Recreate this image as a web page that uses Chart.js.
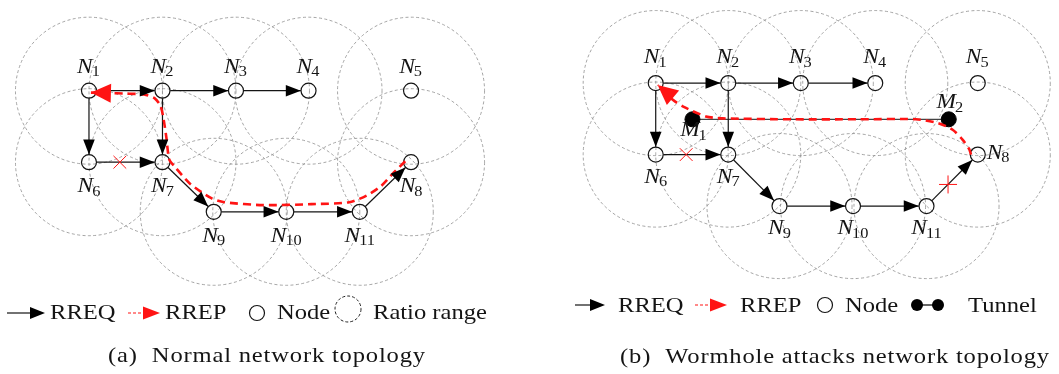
<!DOCTYPE html>
<html>
<head>
<meta charset="utf-8">
<script src="https://cdn.jsdelivr.net/npm/chart.js@4.4.1/dist/chart.umd.min.js"></script>
<style>
  html, body { margin: 0; padding: 0; background: #fff; }
  #wrap { position: relative; width: 1059px; height: 374px; overflow: hidden; }
  canvas { position: absolute; top: 0; }
  #panelA { left: 0; }
  #panelB { left: 530px; }
</style>
</head>
<body>
<div id="wrap">
  <canvas id="panelA" width="530" height="374"></canvas>
  <canvas id="panelB" width="529" height="374"></canvas>
</div>
<script>
// ---- topology data (field coordinates, y grows downward) ----
const nodeIds = ['1', '2', '3', '4', '5', '6', '7', '8', '9', '10', '11'];

// (a) normal topology
const nodeXA = [83, 159, 235, 310, 416, 83, 159, 416, 212, 287, 363];
const nodeYA = [86, 86, 86, 86, 86, 161, 161, 161, 213, 213, 213];
const rangeA = 76;

// (b) wormhole topology
const nodeXB = [121, 196, 271, 348, 454, 121, 196, 454, 249, 325, 401];
const nodeYB = [78, 78, 78, 78, 78, 153, 153, 153, 207, 207, 207];
const rangeB = 75;
const maliciousIds = ['1', '2'];
const maliciousXB = [159, 424];
const maliciousYB = [116, 116];

// RREQ hops, same flooding in both topologies
const rreqFrom = ['1', '2', '3', '1', '2', '6', '7', '9', '10', '11'];
const rreqTo   = ['2', '3', '4', '6', '7', '7', '9', '10', '11', '8'];

// hops whose request is dropped
const droppedA = [['6', '7']];
const droppedB = [['6', '7'], ['11', '8']];

// RREP return routes (N8 back to N1)
const rrepXA = [410, 398, 385, 370, 352, 313, 263, 223, 210, 188, 172, 166, 163, 160, 157, 151, 140, 120, 104, 85];
const rrepYA = [160, 172, 186, 196, 203, 205, 206, 203, 199, 184, 166, 158, 135, 115, 102, 94, 90, 89, 88.5, 88];
const rrepXB = [447, 445, 438, 428, 413, 390, 330, 263, 190, 173, 150, 138, 123];
const rrepYB = [153, 147, 137, 127, 120, 116, 116, 116, 115, 113, 103, 95, 80];

// ---- drawing helpers ----
const SX = 1.17;                       // wide set of the serif face
const FONT = '"Liberation Serif", "Times New Roman", serif';
const INK = '#141414';
const RED = '#ff1414';
const NODE_R = 7.5;
const EDGE_TRIM = 8;

function fontStr(size, italic) { return (italic ? 'italic ' : '') + size + 'px ' + FONT; }

function textWidth(ctx, s, size, italic, spacing) {
  ctx.save();
  ctx.font = fontStr(size, italic);
  ctx.letterSpacing = (spacing || 0) + 'px';
  const w = ctx.measureText(s).width * SX;
  ctx.restore();
  return w;
}

function drawText(ctx, s, x, y, size, italic, spacing) {
  ctx.save();
  ctx.font = fontStr(size, italic);
  ctx.letterSpacing = (spacing || 0) + 'px';
  ctx.fillStyle = INK;
  ctx.textAlign = 'left';
  ctx.textBaseline = 'alphabetic';
  ctx.translate(x, y);
  ctx.scale(SX, 1);
  ctx.fillText(s, 0, 0);
  ctx.restore();
}

function drawHead(ctx, tx, ty, ang, len, half, color) {
  const c = Math.cos(ang), s = Math.sin(ang);
  const bx = tx - len * c, by = ty - len * s;
  ctx.save();
  ctx.fillStyle = color;
  ctx.beginPath();
  ctx.moveTo(tx, ty);
  ctx.lineTo(bx - half * s, by + half * c);
  ctx.lineTo(bx + half * s, by - half * c);
  ctx.closePath();
  ctx.fill();
  ctx.restore();
}

function drawCross(ctx, cx, cy, ang, half) {
  ctx.save();
  ctx.strokeStyle = RED;
  ctx.lineWidth = 1;
  [ang + Math.PI / 4, ang - Math.PI / 4].forEach(a => {
    ctx.beginPath();
    ctx.moveTo(cx - half * Math.cos(a), cy - half * Math.sin(a));
    ctx.lineTo(cx + half * Math.cos(a), cy + half * Math.sin(a));
    ctx.stroke();
  });
  ctx.restore();
}

// node name: italic letter with upright subscript
function drawNodeLabel(ctx, letter, sub, cx, baseY, align) {
  const w1 = textWidth(ctx, letter, 20, true);
  const w2 = textWidth(ctx, sub, 14, false);
  const total = w1 + w2 - 1;
  const x0 = align === 'left' ? cx : cx - total / 2;
  drawText(ctx, letter, x0, baseY, 20, true);
  drawText(ctx, sub, x0 + w1 - 1, baseY + 3.5, 14, false);
}

function pxRadius(chart, r) {
  const s = chart.scales.x;
  return Math.abs(s.getPixelForValue(r) - s.getPixelForValue(0));
}

// ---- chart per panel ----
function buildPanel(canvasId, p) {
  const canvas = document.getElementById(canvasId);
  const W = canvas.width, H = canvas.height;
  const pos = id => { const i = nodeIds.indexOf(id); return { x: p.nodeX[i], y: p.nodeY[i] }; };
  const nodePts = nodeIds.map(id => pos(id));

  const datasets = [];
  // radio ranges
  datasets.push({
    type: 'scatter', label: 'Ratio range', data: nodePts, order: 6, clip: false,
    pointRadius: c => pxRadius(c.chart, p.range), pointHoverRadius: c => pxRadius(c.chart, p.range),
    pointBackgroundColor: 'rgba(0,0,0,0)', pointBorderColor: '#8e8e8e', pointBorderWidth: 0.8,
    dashPattern: [3, 2.4]
  });
  // tunnel between the colluding nodes
  if (p.malX) {
    datasets.push({
      type: 'line', label: 'Tunnel', order: 5, clip: false,
      data: p.malX.map((x, i) => ({ x, y: p.malY[i] })),
      borderColor: '#444', borderWidth: 1.2, pointRadius: 0, tension: 0
    });
  }
  // RREQ hops, trimmed at the node rims
  rreqFrom.forEach((f, i) => {
    const a = pos(f), b = pos(rreqTo[i]);
    const d = Math.hypot(b.x - a.x, b.y - a.y);
    const ux = (b.x - a.x) / d, uy = (b.y - a.y) / d;
    datasets.push({
      type: 'line', label: 'RREQ', order: 4, clip: false,
      data: [{ x: a.x + ux * EDGE_TRIM, y: a.y + uy * EDGE_TRIM }, { x: b.x - ux * EDGE_TRIM, y: b.y - uy * EDGE_TRIM }],
      borderColor: INK, borderWidth: 1.2, pointRadius: 0, tension: 0
    });
  });
  // nodes
  datasets.push({
    type: 'scatter', label: 'Node', data: nodePts, order: 2, clip: false,
    pointRadius: NODE_R, pointHoverRadius: NODE_R,
    pointBackgroundColor: 'rgba(0,0,0,0)', pointBorderColor: INK, pointBorderWidth: 1.2
  });
  if (p.malX) {
    datasets.push({
      type: 'scatter', label: 'Malicious', order: 1, clip: false,
      data: p.malX.map((x, i) => ({ x, y: p.malY[i] })),
      pointRadius: NODE_R, pointHoverRadius: NODE_R,
      pointBackgroundColor: '#000', pointBorderColor: '#000', pointBorderWidth: 1
    });
  }
  // RREP route
  datasets.push({
    type: 'line', label: 'RREP', order: 0, clip: false,
    data: p.rrepX.map((x, i) => ({ x, y: p.rrepY[i] })),
    borderColor: RED, borderWidth: 2.6, borderDash: [8, 5], pointRadius: 0, tension: 0.25
  });

  const overlay = {
    id: 'overlay',
    beforeDatasetDraw(chart, args) {
      const ds = chart.data.datasets[args.index];
      if (ds.dashPattern) { chart.ctx.save(); chart.ctx.setLineDash(ds.dashPattern); }
    },
    afterDatasetDraw(chart, args) {
      const ds = chart.data.datasets[args.index];
      if (ds.dashPattern) chart.ctx.restore();
    },
    afterDatasetsDraw(chart) {
      const ctx = chart.ctx, sx = chart.scales.x, sy = chart.scales.y;
      const P = q => ({ x: sx.getPixelForValue(q.x), y: sy.getPixelForValue(q.y) });
      // RREQ arrowheads
      rreqFrom.forEach((f, i) => {
        const a = P(pos(f)), b = P(pos(rreqTo[i]));
        const ang = Math.atan2(b.y - a.y, b.x - a.x);
        const r = pxRadius(chart, EDGE_TRIM);
        drawHead(ctx, b.x - r * Math.cos(ang), b.y - r * Math.sin(ang), ang, 15, 5.8, '#000');
      });
      // dropped requests
      p.dropped.forEach(([f, t]) => {
        const a = P(pos(f)), b = P(pos(t));
        const ang = Math.atan2(b.y - a.y, b.x - a.x);
        drawCross(ctx, a.x + (b.x - a.x) * 0.42, a.y + (b.y - a.y) * 0.42, ang, 9);
      });
      // RREP arrowhead at the source
      const n = p.rrepX.length;
      const tip = P({ x: p.rrepX[n - 1], y: p.rrepY[n - 1] });
      const prev = P({ x: p.rrepX[n - 3], y: p.rrepY[n - 3] });
      drawHead(ctx, tip.x, tip.y, Math.atan2(tip.y - prev.y, tip.x - prev.x), 20, 9.5, RED);
    },
    afterDraw(chart) {
      const ctx = chart.ctx, sx = chart.scales.x, sy = chart.scales.y;
      // node names
      nodeIds.forEach((id, i) => {
        const x = sx.getPixelForValue(p.nodeX[i]), y = sy.getPixelForValue(p.nodeY[i]);
        const place = p.labelPlace[i];
        if (place === 'above') drawNodeLabel(ctx, 'N', id, x - 0.5, y - p.aboveGap);
        else if (place === 'below') drawNodeLabel(ctx, 'N', id, x, y + p.belowGap);
        else drawNodeLabel(ctx, 'N', id, x + 9, y + 4, 'left');
      });
      if (p.malX) {
        p.malX.forEach((mx, i) => {
          const x = sx.getPixelForValue(mx), y = sy.getPixelForValue(p.malY[i]);
          drawNodeLabel(ctx, 'M', maliciousIds[i], x + 1, y + p.malGap[i]);
        });
      }
      // legend
      const L = p.legend, ly = L.y;
      L.items.forEach(it => {
        if (it.kind === 'text') {
          drawText(ctx, it.text, it.x, ly + L.textDrop, 21, false);
        } else if (it.kind === 'rreq') {
          ctx.save(); ctx.strokeStyle = INK; ctx.lineWidth = 1.2;
          ctx.beginPath(); ctx.moveTo(it.x0, ly); ctx.lineTo(it.x1 - 10, ly); ctx.stroke(); ctx.restore();
          drawHead(ctx, it.x1, ly, 0, 15, 6, '#000');
        } else if (it.kind === 'rrep') {
          ctx.save(); ctx.strokeStyle = RED; ctx.lineWidth = 1.2; ctx.setLineDash([3, 2]);
          ctx.beginPath(); ctx.moveTo(it.x0, ly); ctx.lineTo(it.x1 - 14, ly); ctx.stroke(); ctx.restore();
          drawHead(ctx, it.x1, ly, 0, 17, 6.5, RED);
        } else if (it.kind === 'node') {
          ctx.save(); ctx.strokeStyle = INK; ctx.lineWidth = 1.2;
          ctx.beginPath(); ctx.arc(it.x, ly, NODE_R, 0, Math.PI * 2); ctx.stroke(); ctx.restore();
        } else if (it.kind === 'range') {
          ctx.save(); ctx.strokeStyle = '#222'; ctx.lineWidth = 1; ctx.setLineDash([3, 2]);
          ctx.beginPath(); ctx.arc(it.x, ly - 4, it.r, 0, Math.PI * 2); ctx.stroke(); ctx.restore();
        } else if (it.kind === 'tunnel') {
          ctx.save(); ctx.strokeStyle = '#000'; ctx.fillStyle = '#000'; ctx.lineWidth = 1.2;
          ctx.beginPath(); ctx.moveTo(it.x0, ly); ctx.lineTo(it.x1, ly); ctx.stroke();
          [it.x0, it.x1].forEach(x => { ctx.beginPath(); ctx.arc(x, ly, 6, 0, Math.PI * 2); ctx.fill(); });
          ctx.restore();
        }
      });
      // sub-caption
      const C = p.caption;
      const w1 = textWidth(ctx, C.tag, 21, false, 0.7);
      const w2 = textWidth(ctx, C.text, 21, false, 0.7);
      const x0 = C.cx - (w1 + 14 + w2) / 2;
      drawText(ctx, C.tag, x0, C.y, 21, false, 0.7);
      drawText(ctx, C.text, x0 + w1 + 14, C.y, 21, false, 0.7);
    }
  };

  return new Chart(canvas, {
    type: 'scatter',
    data: { datasets },
    options: {
      responsive: false, animation: false, events: [],
      layout: { padding: 0 },
      scales: {
        x: { type: 'linear', min: 0, max: W, display: false },
        y: { type: 'linear', min: 0, max: H, reverse: true, display: false }
      },
      plugins: { legend: { display: false }, tooltip: { enabled: false }, title: { display: false } }
    },
    plugins: [overlay]
  });
}

buildPanel('panelA', {
  nodeX: nodeXA, nodeY: nodeYA, range: rangeA,
  rrepX: rrepXA, rrepY: rrepYA, dropped: droppedA,
  labelPlace: ['above', 'above', 'above', 'above', 'above', 'below', 'below', 'below', 'below', 'below', 'below'],
  aboveGap: 18, belowGap: 30,
  legend: {
    y: 313, textDrop: 5.5,
    items: [
      { kind: 'rreq', x0: 7, x1: 45 }, { kind: 'text', x: 50, text: 'RREQ' },
      { kind: 'rrep', x0: 128, x1: 160 }, { kind: 'text', x: 165, text: 'RREP' },
      { kind: 'node', x: 257 }, { kind: 'text', x: 277, text: 'Node' },
      { kind: 'range', x: 348, r: 13 }, { kind: 'text', x: 373, text: 'Ratio range' }
    ]
  },
  caption: { tag: '(a)', text: 'Normal network topology', cx: 267, y: 362 }
});

buildPanel('panelB', {
  nodeX: nodeXB, nodeY: nodeYB, range: rangeB,
  malX: maliciousXB, malY: maliciousYB, malGap: [17, -11],
  rrepX: rrepXB, rrepY: rrepYB, dropped: droppedB,
  labelPlace: ['above', 'above', 'above', 'above', 'above', 'below', 'below', 'right', 'below', 'below', 'below'],
  aboveGap: 20, belowGap: 28,
  legend: {
    y: 305, textDrop: 6.5,
    items: [
      { kind: 'rreq', x0: 45, x1: 75 }, { kind: 'text', x: 88, text: 'RREQ' },
      { kind: 'rrep', x0: 165, x1: 197 }, { kind: 'text', x: 210, text: 'RREP' },
      { kind: 'node', x: 295 }, { kind: 'text', x: 315, text: 'Node' },
      { kind: 'tunnel', x0: 387, x1: 408 }, { kind: 'text', x: 438, text: 'Tunnel' }
    ]
  },
  caption: { tag: '(b)', text: 'Wormhole attacks network topology', cx: 305, y: 363 }
});
</script>
</body>
</html>
